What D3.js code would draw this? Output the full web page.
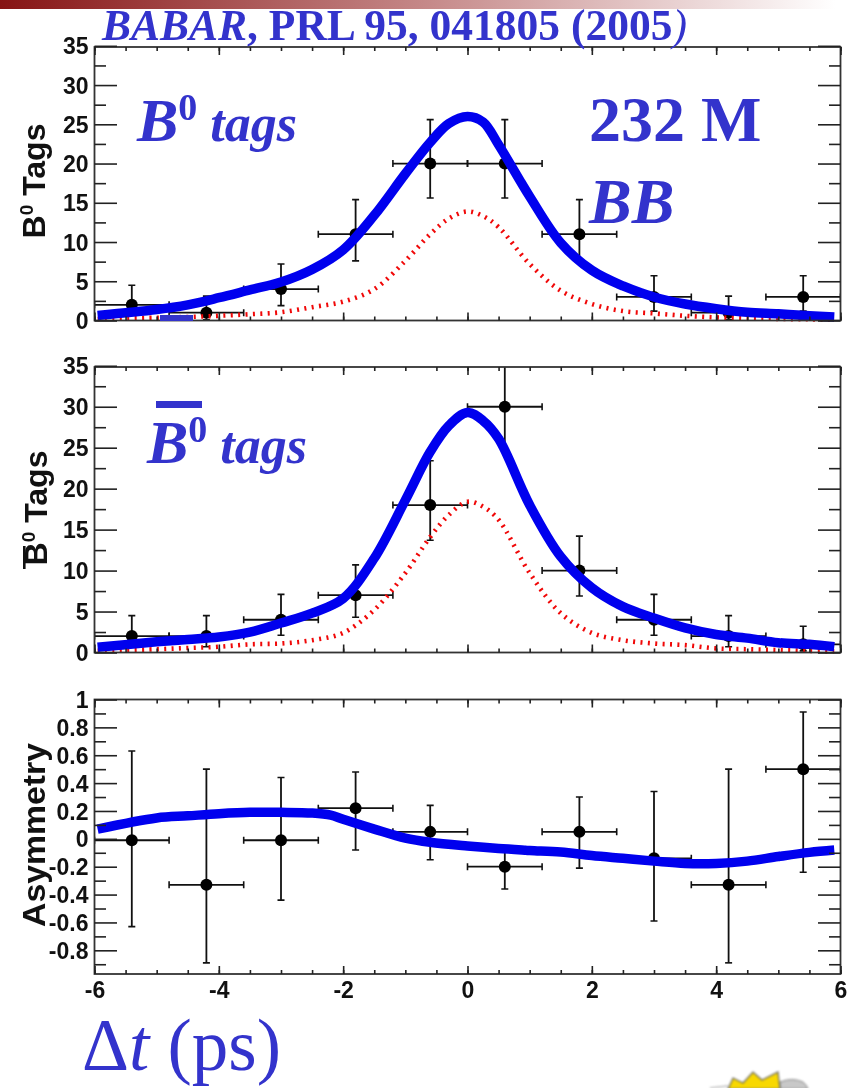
<!DOCTYPE html>
<html><head><meta charset="utf-8">
<script src="https://cdn.jsdelivr.net/npm/d3@7"></script>
<style>
html,body{margin:0;padding:0;background:#fff;overflow:hidden}
svg{display:block}
.ax{font-family:"Liberation Sans",Arial,sans-serif;font-weight:700;fill:#111}
.blue{font-family:"Liberation Serif","Times New Roman",serif;fill:#3333cc}
</style></head><body>
<script>
const binCenters=[-5.4,-4.2,-3,-1.8,-0.6,0.6,1.8,3,4.2,5.4];
const binHalfWidth=0.6;
const y1Values=[2,1,4,11,20,20,11,3,1,3];
const y1Hi=[4.5,3.1,7.2,15.4,25.6,25.6,15.4,5.7,3.1,5.7];
const y1Lo=[0.8,0.1,1.9,7.6,15.6,15.6,7.6,1.2,0.1,1.2];
const y2Values=[2,2,4,7,18,30,10,4,2,1];
const y2Hi=[4.5,4.5,7.1,10.7,23.4,36,14.2,7.1,4.5,3.2];
const y2Lo=[0.7,0.7,2.1,4.3,13.7,24.5,6.9,2.1,0.7,0.2];
const y3Values=[-0.01,-0.33,-0.01,0.22,0.05,-0.2,0.05,-0.14,-0.33,0.5];
const y3Hi=[0.63,0.5,0.44,0.48,0.24,-0.07,0.3,0.34,0.5,0.91];
const y3Lo=[-0.63,-0.89,-0.44,-0.08,-0.15,-0.36,-0.21,-0.59,-0.89,-0.24];

const curveX=[-5.95,-5,-4.5,-4,-3.5,-3,-2.5,-2,-1.5,-1,-0.6,-0.3,0,0.25,0.5,1,1.5,2,2.5,3,3.5,4,4.5,5,5.5,5.9];
const blue1=[0.65,1.4,2,2.9,3.9,4.9,6.5,9,13.4,18.7,22.7,25.1,26,25.3,22.4,15.8,9.9,6.4,4.4,3,2.1,1.5,1.05,0.85,0.6,0.45];
const red1=[0.2,0.35,0.45,0.6,0.8,1.05,1.7,2.4,4,7.6,11,13,13.9,13.3,11.9,7.2,3.8,2.1,1.2,0.9,0.6,0.4,0.3,0.2,0.15,0.1];
const blue2=[0.65,1.3,1.6,1.9,2.5,3.6,4.8,6.6,11.5,18.6,24.5,27.7,29.3,28.3,26.1,18,11.7,7.9,5.6,4.2,3,2.2,1.75,1.2,1,0.7];
const red2=[0.2,0.4,0.55,0.7,1,1.1,1.5,2.4,5.2,9.7,14.1,16.8,18.4,17.8,16.2,9.7,4.8,2.4,1.5,1.1,0.9,0.5,0.4,0.3,0.2,0.15];
const blue3X=[-5.95,-5,-4.5,-4,-3.5,-3,-2.5,-2.2,-2,-1.5,-1,-0.6,0,0.5,1,1.5,2,2.5,3,3.5,4,4.5,5,5.5,5.9];
const blue3=[0.07,0.15,0.165,0.18,0.19,0.19,0.185,0.17,0.14,0.07,0.005,-0.025,-0.052,-0.07,-0.083,-0.095,-0.12,-0.14,-0.16,-0.177,-0.177,-0.16,-0.127,-0.097,-0.08];

const countTicks=[0,5,10,15,20,25,30,35];
const asymTicks=[-0.8,-0.6,-0.4,-0.2,0,0.2,0.4,0.6,0.8,1];
const asymLabels=["-0.8","-0.6","-0.4","-0.2","0","0.2","0.4","0.6","0.8","1"];
const timeTicks=[-6,-4,-2,0,2,4,6];

const W=859,H=1088,L=94.5,R=840.5;
const svg=d3.select("body").append("svg").attr("width",W).attr("height",H);
const defs=svg.append("defs");
const grad=defs.append("linearGradient").attr("id","bar");
grad.append("stop").attr("offset","0").attr("stop-color","#861414");
grad.append("stop").attr("offset","0.5").attr("stop-color","#c48686");
grad.append("stop").attr("offset","1").attr("stop-color","#ffffff");
svg.append("rect").attr("x",0).attr("y",0).attr("width",835).attr("height",9).attr("fill","url(#bar)");

const x=d3.scaleLinear().domain([-6,6]).range([L,R]);
const plots=svg.append("g").style("filter","blur(0.5px)");

function minors(a,b,s){const o=[];for(let v=a;v<=b+1e-9;v+=s)o.push(+v.toFixed(4));return o;}

function panel(o){
  const y=d3.scaleLinear().domain(o.domain).range([o.bottom,o.top]);
  const g=plots.append("g");
  const cid="c"+Math.round(o.top);
  defs.append("clipPath").attr("id",cid).append("rect").attr("x",L).attr("y",o.top).attr("width",R-L).attr("height",o.bottom-o.top);
  const plotG=g.append("g").attr("clip-path",`url(#${cid})`);
  const ink="#111";
  binCenters.forEach((c,i)=>{
    const cy=y(o.values[i]);
    plotG.append("line").attr("x1",x(c-binHalfWidth)).attr("x2",x(c+binHalfWidth)).attr("y1",cy).attr("y2",cy).attr("stroke",ink).attr("stroke-width",1.8);
    plotG.append("line").attr("x1",x(c)).attr("x2",x(c)).attr("y1",y(o.hi[i])).attr("y2",y(o.lo[i])).attr("stroke",ink).attr("stroke-width",1.8);
    [c-binHalfWidth,c+binHalfWidth].forEach(e=>plotG.append("line").attr("x1",x(e)).attr("x2",x(e)).attr("y1",cy-3.5).attr("y2",cy+3.5).attr("stroke",ink).attr("stroke-width",1.6));
    [o.hi[i],o.lo[i]].forEach(e=>plotG.append("line").attr("x1",x(c)-3.5).attr("x2",x(c)+3.5).attr("y1",y(e)).attr("y2",y(e)).attr("stroke",ink).attr("stroke-width",1.6));
    plotG.append("circle").attr("cx",x(c)).attr("cy",cy).attr("r",6).attr("fill","#000");
  });
  const ln=d3.line().x((d,i)=>x(o.curveX[i])).y(d=>y(d)).curve(d3.curveCatmullRom.alpha(0.5));
  if(o.red) g.append("path").attr("d",ln(o.red)).attr("fill","none").attr("stroke","#f00808").attr("stroke-width",4.6).attr("stroke-dasharray","2 5.4");
  g.append("path").attr("d",ln(o.blue)).attr("fill","none").attr("stroke","#0000ee").attr("stroke-width",9.5);
  g.append("rect").attr("x",L).attr("y",o.top).attr("width",R-L).attr("height",o.bottom-o.top).attr("fill","none").attr("stroke","#333").attr("stroke-width",1.8);
  const axY=d3.axisLeft(y).tickValues(o.ticks).tickSize(-22.5).tickPadding(28).tickFormat((d,i)=>o.labels?o.labels[i]:d);
  const yg=g.append("g").attr("transform",`translate(${L},0)`).call(axY);
  g.append("g").attr("transform",`translate(${R},0)`).call(d3.axisRight(y).tickValues(o.ticks).tickSize(-22.5).tickFormat(""));
  g.append("g").attr("transform",`translate(${L},0)`).call(d3.axisLeft(y).tickValues(o.minor).tickSize(-11.5).tickFormat(""));
  g.append("g").attr("transform",`translate(${R},0)`).call(d3.axisRight(y).tickValues(o.minor).tickSize(-11.5).tickFormat(""));
  [["b",o.bottom,d3.axisBottom],["t",o.top,d3.axisTop]].forEach(([k,yy,fn])=>{
    const lab=(k==="b"&&o.xlabels);
    g.append("g").attr("transform",`translate(0,${yy})`).call(fn(x).tickValues(timeTicks).tickSize(-8).tickPadding(16).tickFormat(lab?d3.format("d"):""))
      .call(s=>{if(lab)s.selectAll("text").attr("class","ax").attr("font-size",23).attr("dy","0.35em").text(d=>d);});
    g.append("g").attr("transform",`translate(0,${yy})`).call(fn(x).tickValues(minors(-6,6,0.5)).tickSize(-4).tickFormat(""));
  });
  g.selectAll(".domain").remove();
  g.selectAll(".tick line").attr("stroke","#222").attr("stroke-width",1.6);
  yg.selectAll("text").attr("class","ax").attr("font-size",23).attr("x",-6).attr("dy","0.35em");
  return y;
}

panel({top:47,bottom:320.5,domain:[0,34.85],values:y1Values,hi:y1Hi,lo:y1Lo,curveX,blue:blue1,red:red1,ticks:countTicks,minor:[2.5,7.5,12.5,17.5,22.5,27.5,32.5]});
panel({top:367,bottom:652.5,domain:[0,34.85],values:y2Values,hi:y2Hi,lo:y2Lo,curveX,blue:blue2,red:red2,ticks:countTicks,minor:[2.5,7.5,12.5,17.5,22.5,27.5,32.5]});
panel({top:699.5,bottom:974,domain:[-0.97,1],values:y3Values,hi:y3Hi,lo:y3Lo,curveX:blue3X,blue:blue3,ticks:asymTicks,labels:asymLabels,xlabels:true,minor:[-0.9,-0.7,-0.5,-0.3,-0.1,0.1,0.3,0.5,0.7,0.9]});

function ytitle(cx,cy){
  const t=plots.append("text").attr("class","ax").attr("font-size",32).attr("text-anchor","middle").attr("transform",`translate(${cx},${cy}) rotate(-90)`);
  t.append("tspan").text("B");
  t.append("tspan").attr("font-size",19).attr("dy",-12).text("0");
  t.append("tspan").attr("dy",12).text(" Tags");
}
ytitle(45,181);
ytitle(47,508);
plots.append("rect").attr("x",23).attr("y",546).attr("width",2.6).attr("height",23).attr("fill","#111");
plots.append("text").attr("class","ax").attr("font-size",31).attr("text-anchor","middle")
  .attr("transform","translate(45,835) rotate(-90)").attr("textLength",184).attr("lengthAdjust","spacingAndGlyphs").text("Asymmetry");

function blueText(px,py,size,parts){
  const t=svg.append("text").attr("class","blue").attr("x",px).attr("y",py).attr("font-size",size);
  parts.forEach(p=>{const s=t.append("tspan").text(p.t);
    if(p.i)s.attr("font-style","italic");if(p.b)s.attr("font-weight",700);
    if(p.s)s.attr("font-size",p.s);if(p.dy)s.attr("dy",p.dy);});
  return t;
}
blueText(102,40,43.5,[{t:"BABAR",i:1,b:1},{t:", PRL 95, 041805 (2005",b:1},{t:")",i:1,s:43.5}]);
blueText(137,141,62,[{t:"B",i:1,b:1},{t:"0",b:1,s:38,dy:-21},{t:" tags",i:1,b:1,s:52,dy:21}]);
blueText(589,141,64,[{t:"232 M",b:1}]);
blueText(589,223,64,[{t:"BB",i:1,b:1}]);
blueText(147,463,62,[{t:"B",i:1,b:1},{t:"0",b:1,s:38,dy:-21},{t:" tags",i:1,b:1,s:52,dy:21}]);
svg.append("rect").attr("x",156).attr("y",401).attr("width",46).attr("height",7).attr("fill","#3333cc");
svg.append("rect").attr("x",160).attr("y",315).attr("width",33).attr("height",6).attr("fill","#3333cc");
blueText(82,1070,73,[{t:"\u0394"},{t:"t",i:1},{t:" (ps)"}]);

const art=svg.append("g").style("filter","blur(0.8px)");
const burst=[[728,1089],[733,1078],[743,1083],[753,1072],[762,1080],[778,1072],[780,1089]];
art.append("path").attr("d","M710 1088 L728 1086").attr("stroke","#bbb").attr("stroke-width",1.5);
art.append("path").attr("d","M780 1089 L780 1082 Q792 1077 803 1082 Q807 1085 808 1089 Z").attr("fill","#c8c8c8").attr("stroke","#888").attr("stroke-width",1);
art.append("polygon").attr("points",burst.map(p=>p.join(",")).join(" ")).attr("fill","#f8d800").attr("stroke","#666").attr("stroke-width",1.2);
</script>
</body></html>
